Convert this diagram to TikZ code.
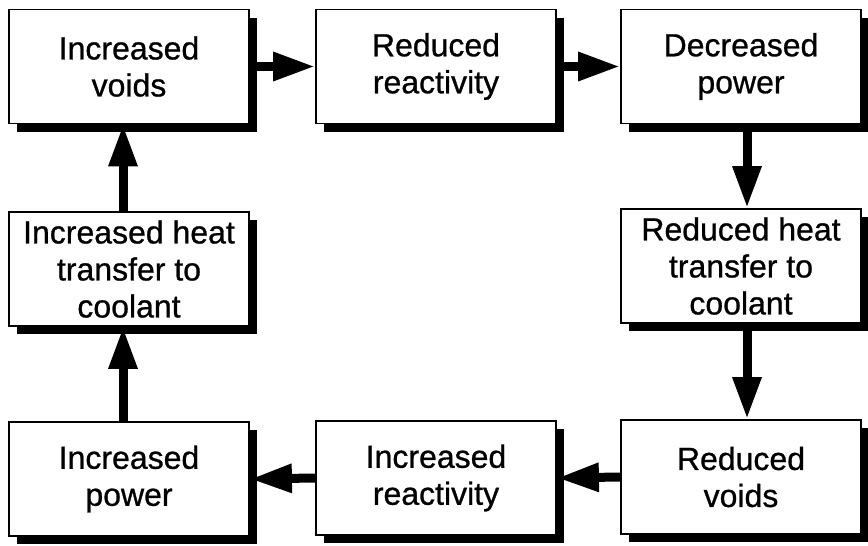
\documentclass[tikz,border=0pt]{standalone}
\usepackage{fontspec}
\setmainfont[FakeBold=0.8]{Liberation Sans}
\usetikzlibrary{arrows.meta,shadows}
\begin{document}
\begin{tikzpicture}[x=1pt,y=-1pt,
  box/.style={draw=black,line width=1.8pt,fill=white,minimum width=240pt,
    minimum height=114pt,inner sep=0pt,align=center,
    font=\fontsize{32}{37}\selectfont,
    drop shadow={shadow xshift=8pt,shadow yshift=-8pt,opacity=1,fill=black}},
  flow/.style={line width=9pt,-{Triangle[length=42pt,width=27pt]}}]
\useasboundingbox (0,0) rectangle (868,546);
\node[box] (iv) at (129,66.5) {Increased\\voids};
\node[box] (rr) at (436,66.5) {Reduced\\reactivity};
\node[box] (dp) at (741,66.5) {Decreased\\power};
\node[box] (rh) at (741,266) {Reduced heat\\transfer to\\coolant};
\node[box] (rv) at (741,477) {Reduced\\voids};
\node[box] (ir) at (436,478) {Increased\\reactivity};
\node[box] (ip) at (129,479) {Increased\\power};
\node[box] (ih) at (129,269) {Increased heat\\transfer to\\coolant};
\draw[flow] (iv.east) -- (rr.west);
\draw[flow] (rr.east) -- (dp.west);
\draw[flow] ([xshift=6pt]dp.south) -- ([xshift=6pt]rh.north);
\draw[flow] ([xshift=6pt]rh.south) -- ([xshift=6pt]rv.north);
\draw[flow] (rv.west) -- (ir.east);
\draw[flow] (ir.west) -- (ip.east);
\draw[flow] ([xshift=-6pt]ip.north) -- ([xshift=-6pt]ih.south);
\draw[flow] ([xshift=-6pt]ih.north) -- ([xshift=-6pt]iv.south);
\end{tikzpicture}
\end{document}
